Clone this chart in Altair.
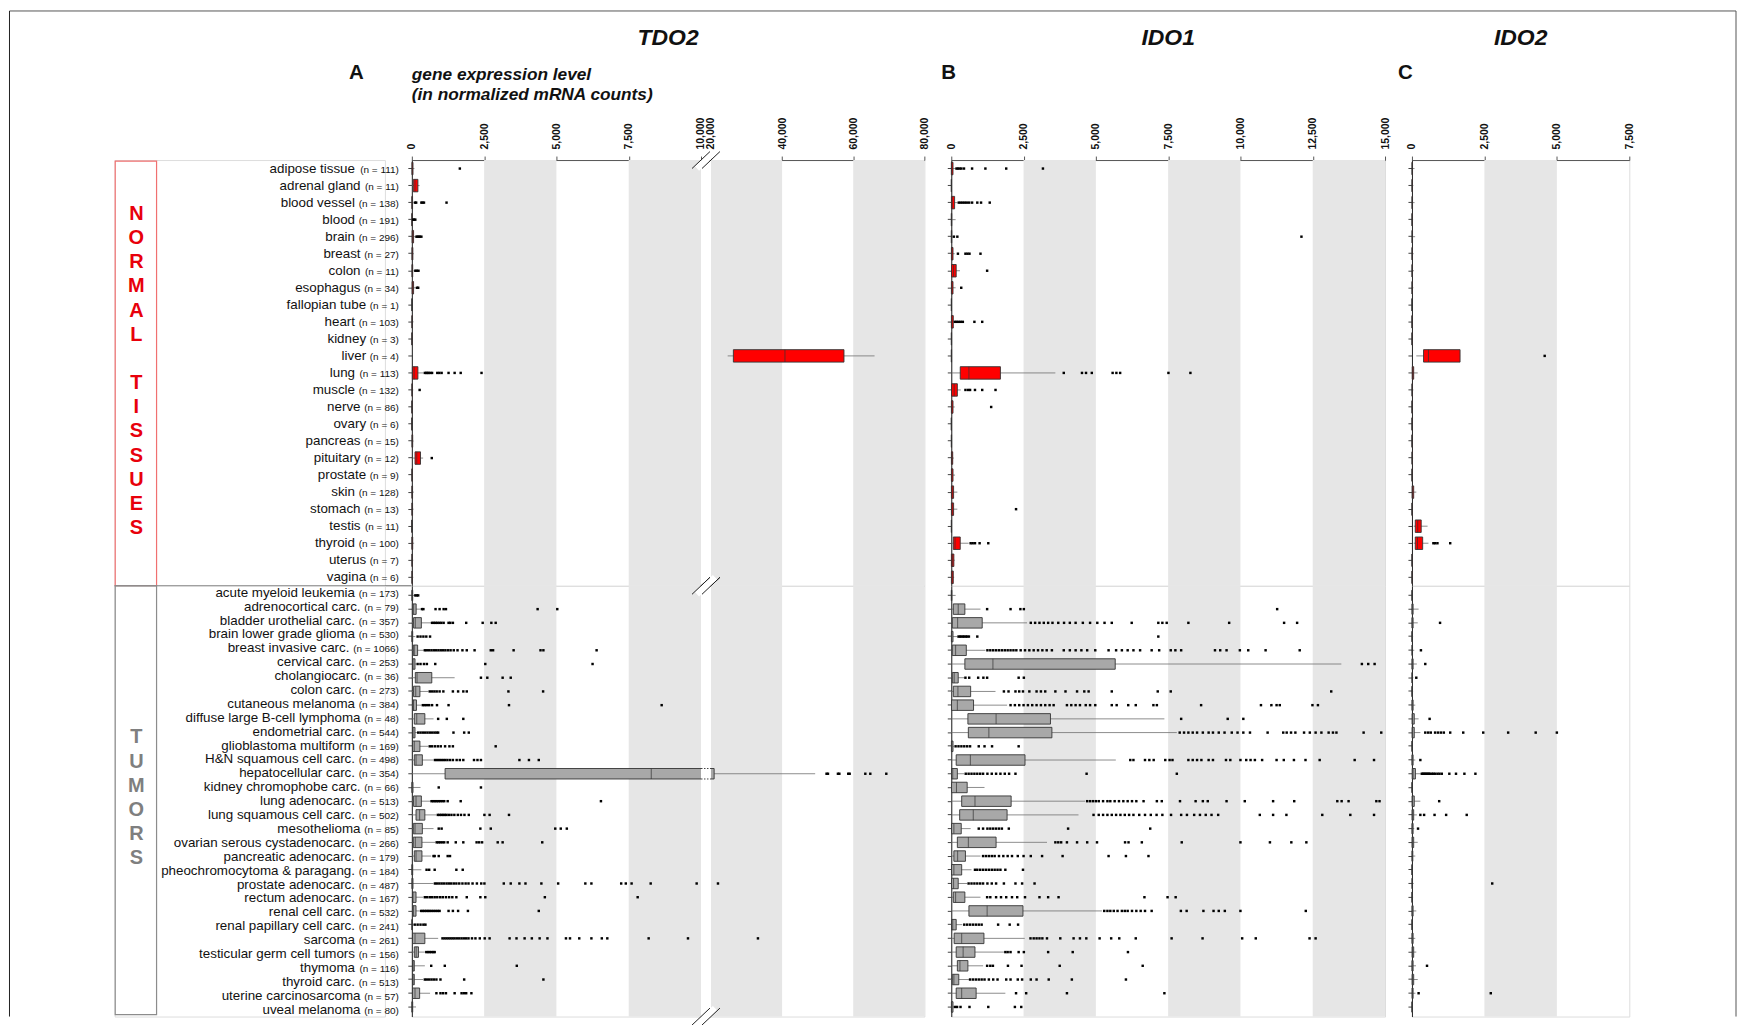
import altair as alt
import pandas as pd

FONT = "Liberation Sans"

# ---------------- categories ----------------
NORMAL_NAMES = ["adipose tissue", "adrenal gland", "blood vessel", "blood", "brain", "breast",
                "colon", "esophagus", "fallopian tube", "heart", "kidney", "liver", "lung",
                "muscle", "nerve", "ovary", "pancreas", "pituitary", "prostate", "skin",
                "stomach", "testis", "thyroid", "uterus", "vagina"]
NORMAL_N = [111, 11, 138, 191, 296, 27, 11, 34, 1, 103, 3, 4, 113, 132, 86, 6, 15, 12, 9,
            128, 13, 11, 100, 7, 6]

TUMOR_NAMES = ["acute myeloid leukemia", "adrenocortical carc.", "bladder urothelial carc.",
               "brain lower grade glioma", "breast invasive carc.", "cervical carc.",
               "cholangiocarc.", "colon carc.", "cutaneous melanoma",
               "diffuse large B-cell lymphoma", "endometrial carc.", "glioblastoma multiform",
               "H&N squamous cell carc.", "hepatocellular carc.", "kidney chromophobe carc.",
               "lung adenocarc.", "lung squamous cell carc.", "mesothelioma",
               "ovarian serous cystadenocarc.", "pancreatic adenocarc.",
               "pheochromocytoma & paragang.", "prostate adenocarc.", "rectum adenocarc.",
               "renal cell carc.", "renal papillary cell carc.", "sarcoma",
               "testicular germ cell tumors", "thymoma", "thyroid carc.",
               "uterine carcinosarcoma", "uveal melanoma"]
TUMOR_N = [173, 79, 357, 530, 1066, 253, 36, 273, 384, 48, 544, 169, 498, 354, 66, 513, 502,
           85, 266, 179, 184, 487, 167, 532, 241, 261, 156, 116, 513, 57, 80]

SECTION_WORDS_NORMAL = ["NORMAL", "TISSUES"]
SECTION_WORDS_TUMOR = ["TUMORS"]

# ---------------- axes ----------------
TDO2_TICKS = [0, 2500, 5000, 7500, 10000, 20000, 40000, 60000, 80000]
TDO2_DOMAIN = [0, 10000, 20000, 80000]
TDO2_BREAK = [10000, 20000]
IDO1_TICKS = [0, 2500, 5000, 7500, 10000, 12500, 15000]
IDO2_TICKS = [0, 2500, 5000, 7500]
TDO2_SHADE = [(2500, 5000), (7500, 10000), (20000, 40000), (60000, 80000)]
IDO1_SHADE = [(2500, 5000), (7500, 10000), (12500, 15000)]
IDO2_SHADE = [(2500, 5000)]

# ---------------- box statistics: (whisker low, Q1, median, Q3, whisker high) ----------------
TDO2_NORMAL_BOX = [
    (0, 5, 15, 40, 90), (0, 50, 110, 210, 270), (0, 2, 8, 25, 60), (0, 2, 5, 12, 30),
    (0, 10, 25, 60, 120), (0, 5, 15, 35, 70), (0, 5, 15, 30, 60), (0, 10, 30, 60, 150),
    (5, 5, 5, 5, 5), (0, 3, 8, 20, 60), (0, 2, 5, 10, 10), (24700, 26300, 40800, 57400, 66000),
    (0, 20, 80, 210, 400), (0, 3, 8, 20, 50), (0, 2, 5, 10, 30), (0, 1, 3, 6, 15),
    (0, 5, 15, 30, 60), (30, 110, 170, 300, 390), (0, 3, 8, 15, 40), (0, 3, 10, 25, 70),
    (0, 3, 10, 25, 60), (0, 0, 2, 5, 10), (0, 3, 10, 30, 80), (0, 3, 8, 20, 50),
    (0, 3, 8, 20, 50)]
TDO2_NORMAL_OUT = [
    [1660], [], [110, 150, 330, 370, 420, 1200], [50, 80, 120], [160, 200, 240, 280, 330], [],
    [120, 170, 230], [180, 220], [], [], [], [],
    [450, 500, 540, 580, 640, 700, 880, 950, 1030, 1270, 1480, 1690, 2410], [270], [], [],
    [], [690], [], [], [], [], [], [], []]

TDO2_TUMOR_BOX = [
    (0, 3, 10, 30, 80), (0, 20, 60, 150, 300), (0, 60, 120, 330, 670), (0, 3, 10, 30, 120),
    (0, 50, 85, 200, 420), (0, 24, 40, 110, 150), (0, 120, 180, 690, 1480), (0, 60, 135, 280, 570),
    (0, 36, 60, 160, 330), (0, 85, 170, 450, 750), (0, 24, 40, 110, 180), (0, 24, 85, 280, 570),
    (0, 85, 145, 364, 750), (0, 1150, 8280, 20890, 49300), (0, 3, 10, 40, 300),
    (0, 60, 145, 330, 630), (0, 145, 270, 450, 850), (0, 50, 110, 364, 750),
    (0, 50, 120, 350, 810), (0, 85, 145, 350, 670), (0, 3, 10, 30, 330), (0, 5, 15, 40, 750),
    (0, 24, 40, 145, 390), (0, 36, 50, 145, 270), (0, 3, 8, 20, 60), (0, 24, 110, 450, 910),
    (0, 85, 150, 230, 450), (0, 24, 40, 85, 450), (0, 24, 40, 85, 390), (0, 24, 110, 270, 630),
    (0, 3, 10, 30, 145)]
TDO2_TUMOR_OUT = [
    [120, 170, 220],
    [350, 400, 820, 960, 1100, 1180, 4350, 5030],
    [700, 760, 820, 880, 950, 1020, 1100, 1270, 1330, 1420, 1880, 2450, 2750, 2900],
    [200, 300, 400, 500, 630],
    [450, 520, 600, 680, 760, 840, 920, 1000, 1080, 1160, 1250, 1340, 1450, 1580, 1750, 1900,
     2170, 2730, 2810, 3520, 4450, 4550, 6390],
    [200, 300, 420, 520, 810, 2540, 6250],
    [2390, 2610, 3140, 3420, 14110],
    [620, 700, 780, 860, 960, 1090, 1420, 1600, 1780, 1900, 3340, 4540],
    [380, 450, 520, 600, 700, 870, 1270, 3360, 8640, 13880],
    [910, 1210, 1780],
    [220, 300, 380, 460, 540, 620, 700, 780, 850, 910, 1440, 1810, 1970, 11270],
    [620, 700, 800, 900, 1000, 1150, 1300, 1420, 2900],
    [800, 870, 940, 1010, 1080, 1150, 1230, 1320, 1420, 1550, 1660, 1780, 2150, 2270, 2390,
     3720, 4050, 4390],
    [52500, 52900, 55700, 56100, 58600, 59000, 63400, 64800, 69300],
    [930, 2390],
    [680, 740, 800, 860, 920, 980, 1050, 1120, 1240, 1690, 6540],
    [900, 960, 1020, 1080, 1140, 1200, 1280, 1370, 1470, 1590, 1700, 1820, 1970, 2510, 2690, 3360],
    [930, 1030, 2370, 2730, 4960, 5150, 5360],
    [860, 920, 980, 1050, 1120, 1240, 1520, 1780, 2240, 2330, 2430, 2970, 3140, 4510],
    [750, 790, 930, 1240, 1320],
    [510, 600, 790, 1540, 1760],
    [800, 870, 950, 1030, 1110, 1200, 1280, 1360, 1450, 1540, 1640, 1750, 1860, 1960, 2100, 2250,
     2400, 2510, 3180, 3420, 3720, 3930, 4480, 5060, 6000, 6210, 7240, 7400, 7600, 8260, 9850,
     21970],
    [450, 530, 620, 700, 790, 880, 980, 1070, 1180, 1290, 1400, 1540, 1900, 2370, 2540, 4600, 7810],
    [320, 380, 440, 500, 560, 620, 690, 760, 830, 900, 960, 1270, 1420, 1600, 1940, 4390],
    [100, 200, 300, 400, 470],
    [1060, 1130, 1200, 1270, 1340, 1410, 1480, 1560, 1640, 1720, 1800, 1880, 1960, 2080, 2200,
     2350, 2520, 2690, 3380, 3620, 3900, 4150, 4420, 4690, 5330, 5470, 5790, 6210, 6570, 6760,
     8190, 9550, 33210],
    [500, 560, 620, 680, 740, 790],
    [670, 1140, 3630],
    [450, 520, 600, 680, 760, 850, 990, 1810, 4550],
    [850, 990, 1080, 1180, 1480, 1720, 1800, 1880, 2060],
    []]

IDO1_NORMAL_BOX = [
    (0, 3, 15, 60, 150), (0, 1, 3, 8, 15), (0, 5, 35, 115, 220), (0, 2, 5, 15, 150),
    (0, 2, 5, 15, 40), (0, 5, 20, 60, 120), (0, 10, 80, 170, 300), (0, 5, 20, 60, 150),
    (5, 5, 5, 5, 5), (0, 5, 20, 70, 110), (0, 2, 5, 10, 20), (0, 2, 5, 10, 20),
    (0, 310, 610, 1700, 3600), (0, 10, 100, 210, 330), (0, 5, 20, 60, 120), (0, 1, 3, 6, 15),
    (0, 2, 5, 10, 20), (0, 5, 20, 50, 90), (0, 5, 20, 60, 130), (0, 5, 30, 80, 210),
    (0, 5, 30, 80, 210), (0, 2, 5, 10, 20), (0, 70, 130, 310, 600), (0, 5, 40, 90, 120),
    (0, 5, 30, 70, 100)]
IDO1_NORMAL_OUT = [
    [180, 230, 290, 350, 440, 720, 1180, 1900, 3170], [],
    [260, 330, 400, 470, 540, 620, 720, 900, 1030, 1330], [], [90, 210, 12110],
    [230, 490, 560, 630, 1010], [1240], [345], [], [130, 190, 260, 330, 400, 800, 1070], [], [],
    [3890, 4520, 4660, 4860, 5580, 5710, 5840, 7510, 8270], [490, 580, 650, 820, 1070, 1530],
    [1380], [], [], [], [], [], [2240], [], [670, 740, 820, 980, 1280], [], []]

IDO1_TUMOR_BOX = [
    (0, 2, 5, 20, 150), (0, 70, 240, 470, 1010), (0, 35, 220, 1070, 2620), (0, 5, 20, 60, 200),
    (0, 35, 150, 520, 1180), (0, 470, 1440, 5670, 13490), (0, 35, 100, 240, 460),
    (0, 70, 230, 670, 1530), (0, 10, 210, 770, 1930), (0, 575, 1550, 3430, 7370),
    (0, 590, 1300, 3480, 7800), (0, 5, 20, 60, 90), (0, 170, 660, 2550, 5690),
    (0, 10, 50, 210, 440), (0, 10, 180, 550, 1150), (0, 360, 820, 2070, 4630),
    (0, 290, 760, 1930, 4400), (0, 10, 90, 345, 670), (0, 210, 590, 1550, 3310),
    (0, 90, 220, 490, 1010), (0, 10, 90, 360, 700), (0, 10, 80, 240, 550), (0, 70, 150, 470, 1010),
    (0, 610, 1240, 2480, 5210), (0, 10, 50, 170, 380), (0, 100, 360, 1130, 2540),
    (0, 170, 410, 820, 1820), (0, 210, 300, 575, 1100), (0, 35, 90, 260, 610),
    (0, 170, 360, 860, 1870), (0, 5, 20, 60, 100)]
IDO1_TUMOR_OUT = [
    [],
    [1240, 2050, 2390, 2510, 11270],
    [2750, 2900, 3050, 3200, 3350, 3500, 3700, 3900, 4100, 4300, 4550, 4800, 5050, 5300, 5550,
     6240, 7160, 7300, 7450, 8200, 9610, 11510, 11960],
    [250, 300, 350, 400, 450, 500, 550, 610, 900, 7160],
    [1250, 1350, 1450, 1550, 1650, 1750, 1850, 1950, 2050, 2150, 2250, 2400, 2550, 2700, 2850,
     3000, 3150, 3300, 3480, 3890, 4100, 4300, 4500, 4700, 4980, 5440, 5700, 5900, 6100, 6300,
     6530, 6930, 7190, 7590, 7750, 7950, 9120, 9300, 9520, 9980, 10270, 10870, 12050],
    [14200, 14420, 14640],
    [490, 620, 930, 1110, 1240, 2330, 2510],
    [1820, 1980, 2220, 2350, 2480, 2700, 2950, 3100, 3250, 3600, 3950, 4350, 4600, 4750, 5550,
     7140, 7590, 13140],
    [2050, 2200, 2350, 2500, 2650, 2800, 2950, 3100, 3250, 3400, 3540, 4000, 4150, 4300, 4450,
     4650, 4800, 4980, 5550, 5720, 6120, 6380, 6990, 7110, 8640, 10710, 11070, 11250, 11360,
     12490, 12680],
    [7950, 9560, 10100],
    [7900, 8050, 8200, 8350, 8500, 8700, 8900, 9050, 9250, 9450, 9700, 9900, 10100, 10330, 10940,
     11480, 11600, 11750, 11900, 12200, 12400, 12600, 12800, 13050, 13200, 13320, 14260, 14870],
    [150, 250, 350, 450, 550, 650, 950, 1150, 1410, 2330],
    [6190, 6300, 6700, 6850, 7000, 7400, 7550, 7650, 8200, 8350, 8500, 8650, 8900, 9050, 9500,
     9650, 10000, 10200, 10350, 10500, 10750, 11250, 11500, 11850, 12250, 12740, 13950, 14620],
    [500, 600, 700, 800, 900, 1000, 1100, 1250, 1400, 1550, 1700, 1850, 2000, 2220, 4680, 7800],
    [],
    [4700, 4800, 4900, 5000, 5100, 5250, 5400, 5500, 5650, 5800, 5950, 6100, 6250, 6400, 6650,
     7110, 7280, 7910, 8450, 8700, 8870, 9520, 10150, 11130, 11860, 13350, 13500, 13740, 14700,
     14810],
    [4920, 5100, 5250, 5400, 5550, 5700, 5850, 6000, 6150, 6300, 6500, 6700, 6900, 7100, 7300,
     7600, 7950, 8150, 8400, 8600, 8800, 9000, 9230, 10670, 11130, 11590, 12830, 13800, 14620],
    [950, 1100, 1250, 1350, 1450, 1550, 1650, 1750, 1990, 4040, 6880],
    [3600, 3700, 3800, 4000, 4350, 4700, 5040, 6010, 6130, 6590, 7970, 10000, 11020, 11760, 12280],
    [1100, 1200, 1300, 1400, 1500, 1650, 1800, 1950, 2100, 2300, 2500, 2750, 3140, 3850, 5440,
     6040, 6820],
    [820, 900, 1000, 1100, 1200, 1300, 1400, 1500, 1600, 1700, 1870, 2480],
    [600, 700, 800, 900, 1000, 1100, 1250, 1400, 1550, 1820, 2220, 2450, 2880],
    [1240, 1350, 1550, 1720, 1900, 2100, 2280, 2550, 3050, 3350, 3710, 6680, 7480, 7760],
    [5290, 5400, 5500, 5620, 5750, 5900, 6000, 6100, 6250, 6400, 6550, 6700, 6930, 7940, 8140,
     8720, 9070, 9250, 9460, 10000, 12260],
    [450, 550, 650, 750, 850, 950, 1050, 1620, 2020, 2310],
    [2740, 2850, 2950, 3050, 3150, 3310, 3770, 4230, 4450, 4670, 5130, 5530, 5810, 6380, 7620,
     8690, 10060, 10530, 12390, 12600],
    [1870, 1950, 2050, 2330, 2510, 3350, 4200, 6110],
    [1240, 1350, 1440, 1960, 2430, 3750, 6620],
    [650, 750, 850, 950, 1050, 1150, 1300, 1450, 1600, 1900, 2050, 2300, 2450, 2750, 2950, 3370,
     4170, 6040],
    [2240, 2590, 4000, 7370],
    [130, 200, 320, 630, 1280, 2200, 2420]]

IDO2_NORMAL_BOX = [
    (0, 2, 5, 20, 90), (0, 2, 5, 15, 50), (0, 2, 5, 20, 90), (0, 2, 5, 10, 40),
    (0, 2, 5, 20, 110), (0, 2, 5, 15, 60), (0, 2, 5, 15, 70), (0, 2, 5, 15, 50),
    (3, 3, 3, 3, 3), (0, 1, 3, 8, 20), (0, 1, 3, 8, 20), (150, 400, 570, 1660, 1660),
    (0, 10, 30, 60, 200), (0, 2, 5, 15, 50), (0, 1, 3, 8, 20), (0, 1, 3, 8, 20),
    (0, 1, 3, 8, 20), (0, 2, 5, 15, 40), (0, 1, 3, 8, 20), (0, 5, 20, 60, 150),
    (0, 1, 3, 8, 20), (60, 115, 200, 320, 540), (60, 115, 190, 370, 570), (0, 1, 3, 8, 30),
    (0, 1, 3, 8, 30)]
IDO2_NORMAL_OUT = [[], [], [], [], [], [], [], [], [], [], [], [4580], [], [], [], [], [], [],
                   [], [], [], [], [740, 800, 880, 1320], [], []]

IDO2_TUMOR_BOX = [
    (0, 1, 3, 8, 20), (0, 2, 10, 40, 230), (0, 2, 10, 40, 200), (0, 1, 3, 8, 40),
    (0, 2, 5, 20, 80), (0, 2, 10, 40, 170), (0, 2, 5, 15, 50), (0, 1, 3, 10, 40),
    (0, 2, 10, 40, 115), (0, 5, 20, 80, 230), (0, 5, 20, 80, 290), (0, 1, 3, 10, 30),
    (0, 2, 10, 40, 115), (0, 10, 40, 120, 300), (0, 1, 3, 8, 30), (0, 5, 20, 80, 290),
    (0, 5, 15, 60, 170), (0, 2, 10, 40, 80), (0, 5, 15, 60, 200), (0, 2, 10, 30, 115),
    (0, 1, 3, 8, 30), (0, 2, 5, 20, 60), (0, 1, 3, 8, 40), (0, 2, 10, 40, 150),
    (0, 1, 3, 8, 30), (0, 2, 10, 40, 115), (0, 5, 20, 60, 150), (0, 2, 10, 40, 140),
    (0, 5, 20, 60, 200), (0, 5, 15, 40, 120), (0, 1, 3, 8, 30)]
IDO2_TUMOR_OUT = [
    [], [], [970], [], [310], [460], [150], [], [], [610],
    [460, 560, 650, 800, 900, 1000, 1100, 1320, 1770, 2460, 3320, 4270, 5000],
    [], [290],
    [340, 380, 420, 460, 500, 540, 580, 620, 690, 740, 800, 880, 950, 1030, 1290, 1520, 1810, 2190],
    [], [940], [290, 420, 780, 1180, 1890], [210], [], [], [], [2770], [], [], [], [], [], [520],
    [], [230, 2720], []]

# ---------------- layout constants ----------------
W_LABEL, W_A, W_B, W_C = 271, 514, 435, 218
H_N, H_T = 427, 432
COL_GAP = 27
A_RANGE = [0, 290, 300, W_A]
LABEL_RIGHT = 285
NAME_SIZE, N_SIZE = 13.4, 10
LETTER_STEP = 24.25
CW = {"(": .333, ")": .333, "n": .556, " ": .278, "=": .584}


def text_width(s, size):
    return sum(CW.get(c, .556) for c in s) * size


def box_frame(names, boxes):
    return pd.DataFrame({"name": names,
                         "lo": [b[0] for b in boxes], "q1": [b[1] for b in boxes],
                         "med": [b[2] for b in boxes], "q3": [b[3] for b in boxes],
                         "hi": [b[4] for b in boxes]})


def out_frame(names, outs):
    rows = [{"name": n, "v": v} for n, vs in zip(names, outs) for v in vs]
    return pd.DataFrame(rows, columns=["name", "v"])


DUMMY = pd.DataFrame({"k": [0]})


def txt(s, x, y, size, bold=True, italic=False, align="center", color="#111"):
    kw = dict(text=s, font=FONT, fontSize=size, align=align, baseline="alphabetic", color=color)
    if bold:
        kw["fontWeight"] = "bold"
    if italic:
        kw["fontStyle"] = "italic"
    return alt.Chart(DUMMY).mark_text(**kw).encode(x=alt.value(x), y=alt.value(y))


def vertical_word(word, y_first, color):
    return alt.Chart(DUMMY).mark_text(text="\n".join(word), lineBreak="\n",
                                      lineHeight=LETTER_STEP, font=FONT, fontSize=20,
                                      fontWeight="bold", color=color, align="center",
                                      baseline="middle").encode(
        x=alt.value(21.7), y=alt.value(y_first))


def gene_panel(names, boxes, outs, normal, x_scale, ticks, shade, width, broken=False, headers=()):
    height = H_N if normal else H_T
    band_h = 12.5 if normal else 10.5
    fill = "#FF0000" if normal else "#A8A8A8"
    if normal:
        xaxis = alt.Axis(orient="top", values=ticks, labelExpr="format(datum.value, ',')",
                         labelAngle=-90, labelAlign="left", labelBaseline="middle",
                         labelFont=FONT, labelFontWeight="bold", labelFontSize=10.5,
                         labelColor="#111", labelPadding=7, labelOverlap=False,
                         labelFlush=False, tickSize=4, tickColor="#555", domainColor="#555",
                         grid=False, title=None)
    else:
        xaxis = None

    def X(f):
        return alt.X(f"{f}:Q", scale=x_scale, axis=xaxis)

    yenc = alt.Y("name:N", sort=names,
                 scale=alt.Scale(domain=names, paddingInner=0, paddingOuter=0 if normal else 0.2),
                 axis=alt.Axis(labels=False, ticks=True, tickSize=4, tickColor="#444",
                               domain=True, domainColor="#222", grid=False, title=None))
    bdf = box_frame(names, boxes)
    odf = out_frame(names, outs)
    sdf = pd.DataFrame({"s0": [s[0] for s in shade], "s1": [s[1] for s in shade]})

    layers = [
        alt.Chart(sdf).mark_rect(color="#E6E6E6").encode(x=X("s0"), x2="s1"),
        alt.Chart(bdf).mark_rule(color="#707070", strokeWidth=0.8).encode(x=X("lo"), x2="hi", y=yenc),
        alt.Chart(bdf).mark_bar(size=band_h, fill=fill, stroke="#333", strokeWidth=0.9,
                                opacity=1).encode(x=X("q1"), x2="q3", y=yenc),
        alt.Chart(bdf).mark_tick(size=band_h, thickness=1, color="#333",
                                 orient="vertical").encode(x=X("med"), y=yenc),
        alt.Chart(odf).mark_square(size=6, color="#000", opacity=1).encode(x=X("v"), y=yenc),
    ]
    if broken:
        gdf = pd.DataFrame({"g0": [TDO2_BREAK[0]], "g1": [TDO2_BREAK[1]]})
        layers.append(alt.Chart(gdf).mark_rect(color="white").encode(
            x=X("g0"), x2="g1", y=alt.value(1), y2=alt.value(height - 1)))
        cross = bdf[(bdf.q1 < TDO2_BREAK[0]) & (bdf.q3 > TDO2_BREAK[1])].copy()
        cross["g0"] = TDO2_BREAK[0]
        cross["g1"] = TDO2_BREAK[1]
        for off in (-band_h / 2, band_h / 2):
            layers.append(alt.Chart(cross).mark_rule(color="#444", strokeDash=[1.5, 1.5],
                                                     yOffset=off).encode(
                x=X("g0"), x2="g1", y=yenc))
        mid = pd.DataFrame({"bx": [(TDO2_BREAK[0] + TDO2_BREAK[1]) / 2]})
        brk = pd.DataFrame({"bx": TDO2_BREAK})
        for y0 in (0, height):
            layers.append(alt.Chart(mid).mark_rule(color="white", strokeWidth=6, xOffset=-9,
                                                   x2Offset=9).encode(
                x=X("bx"), x2="bx", y=alt.value(y0 + 8.5), y2=alt.value(y0 - 8.5)))
            layers.append(alt.Chart(brk).mark_rule(color="#222", strokeWidth=1, xOffset=-9,
                                                   x2Offset=9).encode(
                x=X("bx"), x2="bx", y=alt.value(y0 + 8.5), y2=alt.value(y0 - 8.5)))
    layers.extend(headers)
    return alt.layer(*layers).properties(width=width, height=height)


def label_panel(names, ns, normal):
    height = H_N if normal else H_T
    ntext = [f"(n = {n})" for n in ns]
    nx = [LABEL_RIGHT - text_width(t, N_SIZE) - 3.7 for t in ntext]
    df = pd.DataFrame({"name": names, "ntext": ntext, "nx": nx})
    yenc = alt.Y("name:N", sort=names,
                 scale=alt.Scale(domain=names, paddingInner=0, paddingOuter=0 if normal else 0.2),
                 axis=None)
    layers = []
    if normal:
        frame_color = "#555"
        w1, w2 = SECTION_WORDS_NORMAL
        layers += [
            alt.Chart(DUMMY).mark_rule(color=frame_color, strokeWidth=1).encode(
                x=alt.value(-105.5), x2=alt.value(1626), y=alt.value(-149.5)),
            alt.Chart(DUMMY).mark_rule(color="#222", strokeWidth=1).encode(
                x=alt.value(-105.5), y=alt.value(-149.5), y2=alt.value(859)),
            alt.Chart(DUMMY).mark_rule(color=frame_color, strokeWidth=1).encode(
                x=alt.value(1626), y=alt.value(-149.5), y2=alt.value(859)),
            alt.Chart(DUMMY).mark_rect(fill="white", fillOpacity=0, stroke="#F07070",
                                       strokeWidth=1.2).encode(
                x=alt.value(0.5), x2=alt.value(42), y=alt.value(1), y2=alt.value(H_N)),
            alt.Chart(DUMMY).mark_rule(color="#666", strokeWidth=1).encode(
                x=alt.value(0), x2=alt.value(297.6), y=alt.value(H_N)),
            vertical_word(w1, 54, "#E8000B"),
            vertical_word(w2, 54 + (len(w1) + 1) * LETTER_STEP, "#E8000B"),
        ]
    else:
        layers += [
            alt.Chart(DUMMY).mark_rect(fill="white", fillOpacity=0, stroke="#8C8C8C",
                                       strokeWidth=1.2).encode(
                x=alt.value(0.5), x2=alt.value(42), y=alt.value(0), y2=alt.value(430)),
            vertical_word(SECTION_WORDS_TUMOR[0], 152, "#7F7F7F"),
        ]
    layers += [
        alt.Chart(df).mark_text(align="right", baseline="alphabetic", dy=4, font=FONT,
                                fontSize=NAME_SIZE, color="#111").encode(
            x=alt.X("nx:Q", scale=None), y=yenc, text="name:N"),
        alt.Chart(df).mark_text(align="right", baseline="alphabetic", dy=4, font=FONT,
                                fontSize=N_SIZE, color="#111").encode(
            x=alt.value(LABEL_RIGHT), y=yenc, text="ntext:N"),
    ]
    return alt.layer(*layers).properties(width=W_LABEL, height=height)


scale_a = alt.Scale(domain=TDO2_DOMAIN, range=A_RANGE, nice=False, zero=False)
scale_b = alt.Scale(domain=[0, 15000], nice=False, zero=False)
scale_c = alt.Scale(domain=[0, 7500], nice=False, zero=False)

head_a = [txt("TDO2", W_A / 2, -115.5, 23, italic=True),
          txt("A", -55.6, -81, 20.5),
          txt("gene expression level", 0, -80, 17.3, italic=True, align="left"),
          txt("(in normalized mRNA counts)", 0, -60.5, 17.3, italic=True, align="left")]
head_b = [txt("IDO1", W_B / 2, -115.5, 23, italic=True), txt("B", -2.6, -81, 20.5)]
head_c = [txt("IDO2", W_C / 2, -115.5, 23, italic=True), txt("C", -6.6, -81, 20.5)]

LN = label_panel(NORMAL_NAMES, NORMAL_N, True)
LT = label_panel(TUMOR_NAMES, TUMOR_N, False)
AN = gene_panel(NORMAL_NAMES, TDO2_NORMAL_BOX, TDO2_NORMAL_OUT, True, scale_a, TDO2_TICKS,
                TDO2_SHADE, W_A, broken=True, headers=head_a)
AT = gene_panel(TUMOR_NAMES, TDO2_TUMOR_BOX, TDO2_TUMOR_OUT, False, scale_a, TDO2_TICKS,
                TDO2_SHADE, W_A, broken=True)
BN = gene_panel(NORMAL_NAMES, IDO1_NORMAL_BOX, IDO1_NORMAL_OUT, True, scale_b, IDO1_TICKS,
                IDO1_SHADE, W_B, headers=head_b)
BT = gene_panel(TUMOR_NAMES, IDO1_TUMOR_BOX, IDO1_TUMOR_OUT, False, scale_b, IDO1_TICKS,
                IDO1_SHADE, W_B)
CN = gene_panel(NORMAL_NAMES, IDO2_NORMAL_BOX, IDO2_NORMAL_OUT, True, scale_c, IDO2_TICKS,
                IDO2_SHADE, W_C, headers=head_c)
CT = gene_panel(TUMOR_NAMES, IDO2_TUMOR_BOX, IDO2_TUMOR_OUT, False, scale_c, IDO2_TICKS,
                IDO2_SHADE, W_C)

chart = alt.concat(LN, AN, BN, CN, LT, AT, BT, CT, columns=4,
                   spacing={"row": 0, "column": COL_GAP}, bounds="flush").properties(
    padding=0
).configure_view(stroke="#666", strokeWidth=1).configure(font=FONT, background="white")

chart.save("out.html", embed_options={"renderer": "svg", "actions": False})
